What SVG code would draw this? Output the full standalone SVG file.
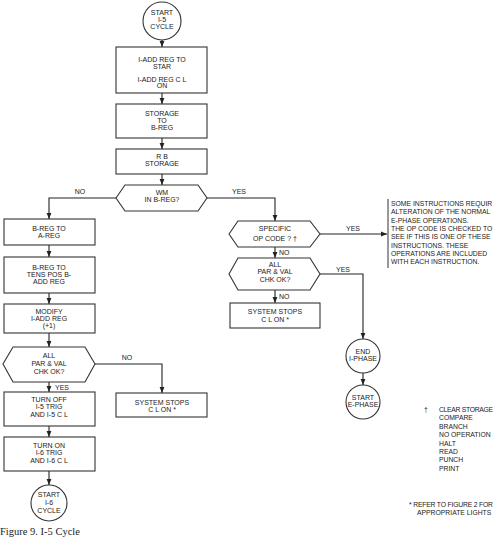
<svg xmlns="http://www.w3.org/2000/svg" width="495" height="539" viewBox="0 0 495 539">
<defs>
<marker id="ah" viewBox="0 0 6 6" refX="6" refY="3" markerWidth="6" markerHeight="6" markerUnits="userSpaceOnUse" orient="auto">
<path d="M0,0.6 L6,3 L0,5.4 Z" fill="#222"/>
</marker>
<style>
.s{fill:#fff;stroke:#333;stroke-width:1.1}
.c{fill:none;stroke:#222;stroke-width:1.1}
text{font-family:"Liberation Sans",Arial,sans-serif;font-size:7px;fill:#222}
.m{text-anchor:middle}
.n{font-size:6.8px}
.cap{font-family:"Liberation Serif","Times New Roman",serif;font-size:10.5px}
</style>
</defs>
<rect width="495" height="539" fill="#fff"/>

<g id="connectors">
<path class="c" d="M162,40 V47" marker-end="url(#ah)"/>
<path class="c" d="M162,93 V104" marker-end="url(#ah)"/>
<path class="c" d="M162,138 V149" marker-end="url(#ah)"/>
<path class="c" d="M162,174 V185" marker-end="url(#ah)"/>
<path class="c" d="M116,198 H49 V219" marker-end="url(#ah)"/>
<path class="c" d="M207,198 H275 V221" marker-end="url(#ah)"/>
<path class="c" d="M49,245 V257" marker-end="url(#ah)"/>
<path class="c" d="M49,293 V304" marker-end="url(#ah)"/>
<path class="c" d="M49,333 V347" marker-end="url(#ah)"/>
<path class="c" d="M49,382 V392" marker-end="url(#ah)"/>
<path class="c" d="M95,364 H162 V393" marker-end="url(#ah)"/>
<path class="c" d="M49,426 V437" marker-end="url(#ah)"/>
<path class="c" d="M49,471 V485" marker-end="url(#ah)"/>
<path class="c" d="M275,247 V258" marker-end="url(#ah)"/>
<path class="c" d="M275,290 V303" marker-end="url(#ah)"/>
<path class="c" d="M320,234 H387" marker-end="url(#ah)"/>
<path class="c" d="M320,274 H363 V339" marker-end="url(#ah)"/>
<path class="c" d="M363,373 V385" marker-end="url(#ah)"/>
<text class="m" x="80" y="194">NO</text>
<text class="m" x="239" y="194">YES</text>
<text x="55" y="390">YES</text>
<text class="m" x="127" y="360">NO</text>
<text x="279" y="255">NO</text>
<text x="279" y="299">NO</text>
<text class="m" x="353" y="231">YES</text>
<text class="m" x="343" y="272">YES</text>
</g>

<g id="start-i5">
<circle class="s" cx="162" cy="21" r="19"/>
<text class="m" x="162" y="15">START</text>
<text class="m" x="162" y="22">I-5</text>
<text class="m" x="162" y="29">CYCLE</text>
</g>
<g id="iadd-star">
<rect class="s" x="116" y="47" width="91" height="46"/>
<text class="m" x="162" y="62">I-ADD REG TO</text>
<text class="m" x="162" y="68.5">STAR</text>
<text class="m" x="162" y="81.5">I-ADD REG C L</text>
<text class="m" x="162" y="88">ON</text>
</g>
<g id="storage-breg">
<rect class="s" x="116" y="104" width="91" height="34"/>
<text class="m" x="162" y="116">STORAGE</text>
<text class="m" x="162" y="123">TO</text>
<text class="m" x="162" y="130">B-REG</text>
</g>
<g id="rb-storage">
<rect class="s" x="116" y="149" width="91" height="25"/>
<text class="m" x="162" y="159">R B</text>
<text class="m" x="162" y="166">STORAGE</text>
</g>
<g id="wm-breg">
<polygon class="s" points="116,198 125,185 198,185 207,198 198,211 125,211"/>
<text class="m" x="162" y="195">WM</text>
<text class="m" x="162" y="202">IN B-REG?</text>
</g>

<g id="breg-areg">
<rect class="s" x="4" y="219" width="91" height="26"/>
<text class="m" x="49" y="231">B-REG TO</text>
<text class="m" x="49" y="238">A-REG</text>
</g>
<g id="breg-tens">
<rect class="s" x="4" y="257" width="91" height="36"/>
<text class="m" x="49" y="270">B-REG TO</text>
<text class="m" x="49" y="277">TENS POS B-</text>
<text class="m" x="49" y="284">ADD REG</text>
</g>
<g id="modify">
<rect class="s" x="4" y="304" width="91" height="29"/>
<text class="m" x="49" y="314">MODIFY</text>
<text class="m" x="49" y="321">I-ADD REG</text>
<text class="m" x="49" y="328">(+1)</text>
</g>
<g id="chk-left">
<polygon class="s" points="3,364 13,347 85,347 95,364 85,382 13,382"/>
<text class="m" x="49" y="358">ALL</text>
<text class="m" x="49" y="366">PAR &amp; VAL</text>
<text class="m" x="49" y="374">CHK OK?</text>
</g>
<g id="turn-off">
<rect class="s" x="4" y="392" width="91" height="34"/>
<text class="m" x="49" y="402">TURN OFF</text>
<text class="m" x="49" y="409">I-5 TRIG</text>
<text class="m" x="49" y="417">AND I-5 C L</text>
</g>
<g id="turn-on">
<rect class="s" x="4" y="437" width="91" height="34"/>
<text class="m" x="49" y="448">TURN ON</text>
<text class="m" x="49" y="455">I-6 TRIG</text>
<text class="m" x="49" y="463">AND I-6 C L</text>
</g>
<g id="start-i6">
<circle class="s" cx="49" cy="503" r="18"/>
<text class="m" x="49" y="497">START</text>
<text class="m" x="49" y="505">I-6</text>
<text class="m" x="49" y="513">CYCLE</text>
</g>
<g id="stop-left">
<rect class="s" x="116" y="393" width="91" height="24"/>
<text class="m" x="162" y="405">SYSTEM STOPS</text>
<text class="m" x="162" y="412">C L ON *</text>
</g>

<g id="specific-op">
<polygon class="s" points="229,234 238,221 310,221 320,234 310,247 238,247"/>
<text class="m" x="275" y="231">SPECIFIC</text>
<text class="m" x="275" y="241">OP CODE ? †</text>
</g>
<g id="chk-right">
<polygon class="s" points="229,274 238,258 310,258 320,274 310,290 238,290"/>
<text class="m" x="275" y="267">ALL</text>
<text class="m" x="275" y="274">PAR &amp; VAL</text>
<text class="m" x="275" y="282">CHK OK?</text>
</g>
<g id="stop-right">
<rect class="s" x="230" y="303" width="90" height="25"/>
<text class="m" x="275" y="314">SYSTEM STOPS</text>
<text class="m" x="275" y="322">C L ON *</text>
</g>
<g id="end-i">
<circle class="s" cx="363" cy="356" r="17"/>
<text class="m" x="363" y="354">END</text>
<text class="m" x="363" y="361">I-PHASE</text>
</g>
<g id="start-e">
<circle class="s" cx="363" cy="402" r="17"/>
<text class="m" x="363" y="400">START</text>
<text class="m" x="363" y="407">E-PHASE</text>
</g>

<g id="note">
<path d="M388,199 V268" stroke="#333" stroke-width="1"/>
<text class="n" x="391" y="206">SOME INSTRUCTIONS REQUIR</text>
<text class="n" x="391" y="214.3">ALTERATION OF THE NORMAL</text>
<text class="n" x="391" y="222.6">E-PHASE OPERATIONS.</text>
<text class="n" x="391" y="231">THE OP CODE IS CHECKED TO</text>
<text class="n" x="391" y="239.3">SEE IF THIS IS ONE OF THESE</text>
<text class="n" x="391" y="247.6">INSTRUCTIONS.  THESE</text>
<text class="n" x="391" y="256">OPERATIONS ARE INCLUDED</text>
<text class="n" x="391" y="264.3">WITH EACH INSTRUCTION.</text>
</g>
<g id="dagger-list">
<text class="n" x="424" y="412">†</text>
<text class="n" x="439" y="412" textLength="54">CLEAR STORAGE</text>
<text class="n" x="439" y="420.4">COMPARE</text>
<text class="n" x="439" y="428.8">BRANCH</text>
<text class="n" x="439" y="437.2">NO OPERATION</text>
<text class="n" x="439" y="445.6">HALT</text>
<text class="n" x="439" y="454">READ</text>
<text class="n" x="439" y="462.4">PUNCH</text>
<text class="n" x="439" y="470.8">PRINT</text>
</g>
<g id="footnote">
<text class="n" x="409" y="507" textLength="84">* REFER TO FIGURE 2 FOR</text>
<text class="n" x="417" y="515">APPROPRIATE LIGHTS</text>
</g>
<text class="cap" x="0" y="535">Figure 9.  I-5 Cycle</text>
</svg>
